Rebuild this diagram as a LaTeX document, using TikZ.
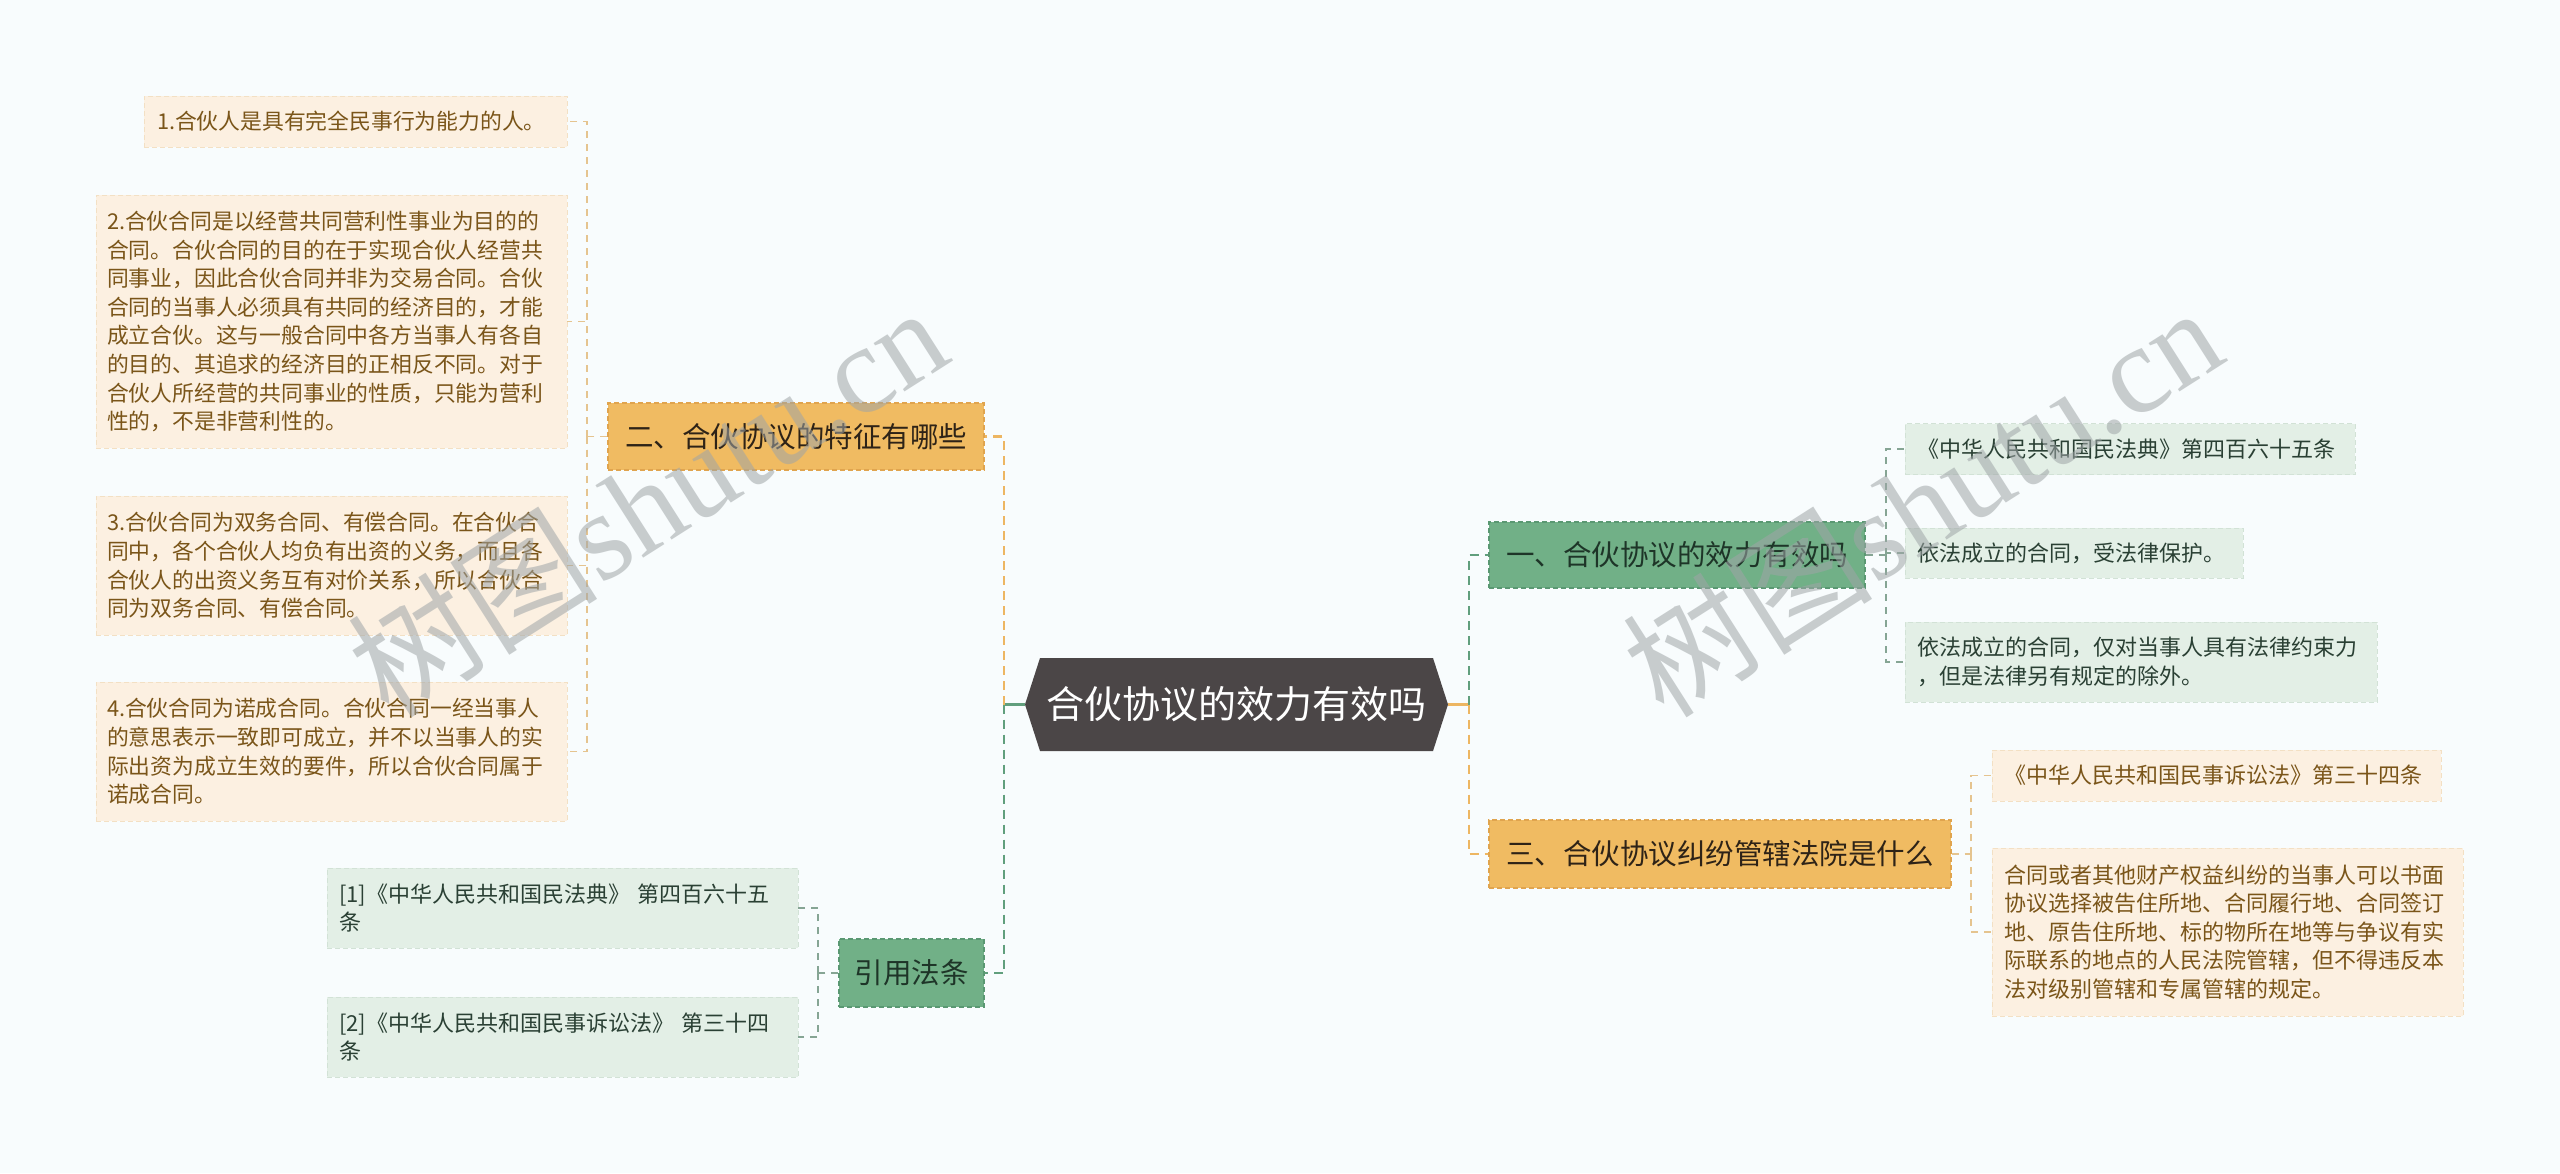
\documentclass[tikz,border=0pt]{standalone}
\usepackage{fontspec}
\setmainfont{Noto Sans CJK SC}
\newfontfamily\wmlatin{Liberation Serif}
\definecolor{bgc}{HTML}{F8FCFD}
\definecolor{leafOfill}{HTML}{FCF0E1}
\definecolor{leafOline}{HTML}{F3E0C4}
\definecolor{leafOtext}{HTML}{7A5519}
\definecolor{leafGfill}{HTML}{E3EFE6}
\definecolor{leafGline}{HTML}{D2E2D6}
\definecolor{leafGtext}{HTML}{2A4034}
\definecolor{brOfill}{HTML}{F0BB62}
\definecolor{brOline}{HTML}{E0A44E}
\definecolor{brOtext}{HTML}{2E2317}
\definecolor{brGfill}{HTML}{71B087}
\definecolor{brGline}{HTML}{5A9872}
\definecolor{brGtext}{HTML}{1E3528}
\definecolor{hexc}{HTML}{4B4647}
\definecolor{conO}{HTML}{EDB662}
\definecolor{conG}{HTML}{619F7D}
\definecolor{lconO}{HTML}{E5C48F}
\definecolor{lconG}{HTML}{86A594}
\definecolor{wmc}{HTML}{9FA5A7}
\newcommand\lffontL{\fontsize{21.8}{28.6}\selectfont}
\newcommand\lffontR{\fontsize{22}{28.6}\selectfont}
\newcommand\brfontX{\fontsize{28.5}{34}\selectfont}
\newcommand\ctfontX{\fontsize{38}{44}\selectfont}
\begin{document}
\begin{tikzpicture}[x=1pt,y=-1pt,
  box/.style={rectangle, inner xsep=12pt, inner ysep=0pt, dashed, line width=0.9pt, dash pattern=on 5pt off 3pt},
  oleaf/.style={box, fill=leafOfill, draw=leafOline, text=leafOtext, align=left},
  gleaf/.style={box, fill=leafGfill, draw=leafGline, text=leafGtext, align=left},
  obr/.style={box, fill=brOfill, draw=brOline, text=brOtext, font=\brfontX, line width=1.2pt},
  gbr/.style={box, fill=brGfill, draw=brGline, text=brGtext, font=\brfontX, line width=1.2pt},
  mainO/.style={draw=conO, line width=2.6pt, dash pattern=on 9pt off 6pt},
  mainG/.style={draw=conG, line width=2.6pt, dash pattern=on 9pt off 6pt},
  subO/.style={draw=lconO, line width=1.3pt, dash pattern=on 7pt off 6pt},
  subG/.style={draw=lconG, line width=1.3pt, dash pattern=on 7pt off 6pt},
  wm/.style={text=wmc, text opacity=0.55, font=\fontsize{125}{130}\selectfont, inner sep=0pt}
]
\useasboundingbox (0,0) rectangle (2560,1173);
\fill[bgc] (0,0) rectangle (2560,1173);

% centre
\node[rectangle, inner sep=0pt, minimum width=423pt, minimum height=93pt, text=white, font=\ctfontX,
  path picture={\fill[hexc] ([xshift=15pt]path picture bounding box.north west) -- ([xshift=-15pt]path picture bounding box.north east) -- (path picture bounding box.east) -- ([xshift=-15pt]path picture bounding box.south east) -- ([xshift=15pt]path picture bounding box.south west) -- (path picture bounding box.west) -- cycle;}]
  (c) at (1236.5,704.5) {合伙协议的效力有效吗};

% left branches
\node[obr, minimum width=376pt, minimum height=67pt] (er) at (796,436.5) {二、合伙协议的特征有哪些};
\node[gbr, minimum width=145pt, minimum height=68pt] (yy) at (911.5,973) {引用法条};

% left leaves
\node[oleaf, font=\lffontL, inner xsep=13pt, text width=397pt, minimum width=423pt, minimum height=51pt] (l1) at (355.5,121.5) {1.合伙人是具有完全民事行为能力的人。};
\node[oleaf, font=\lffontL, inner xsep=11pt, text width=449pt, minimum width=471pt, minimum height=253pt] (l2) at (331.5,321.5) {2.合伙合同是以经营共同营利性事业为目的的\\合同。合伙合同的目的在于实现合伙人经营共\\同事业，因此合伙合同并非为交易合同。合伙\\合同的当事人必须具有共同的经济目的，才能\\成立合伙。这与一般合同中各方当事人有各自\\的目的、其追求的经济目的正相反不同。对于\\合伙人所经营的共同事业的性质，只能为营利\\性的，不是非营利性的。};
\node[oleaf, font=\lffontL, inner xsep=11pt, text width=449pt, minimum width=471pt, minimum height=139pt] (l3) at (331.5,565.5) {3.合伙合同为双务合同、有偿合同。在合伙合\\同中，各个合伙人均负有出资的义务，而且各\\合伙人的出资义务互有对价关系，所以合伙合\\同为双务合同、有偿合同。};
\node[oleaf, font=\lffontL, inner xsep=11pt, text width=449pt, minimum width=471pt, minimum height=139pt] (l4) at (331.5,751.5) {4.合伙合同为诺成合同。合伙合同一经当事人\\的意思表示一致即可成立，并不以当事人的实\\际出资为成立生效的要件，所以合伙合同属于\\诺成合同。};

\node[gleaf, font=\lffontR, text width=447pt, minimum width=471pt, minimum height=80pt] (r1) at (562.5,908) {[1]《中华人民共和国民法典》 第四百六十五\\条};
\node[gleaf, font=\lffontR, text width=447pt, minimum width=471pt, minimum height=80pt] (r2) at (562.5,1037) {[2]《中华人民共和国民事诉讼法》 第三十四\\条};

% right branches
\node[gbr, minimum width=376pt, minimum height=66pt] (yi) at (1677,555) {一、合伙协议的效力有效吗};
\node[obr, minimum width=462pt, minimum height=68pt] (san) at (1720,854) {三、合伙协议纠纷管辖法院是什么};

% right leaves
\node[gleaf, font=\lffontR, text width=426pt, minimum width=450pt, minimum height=51pt] (a1) at (2130,449) {《中华人民共和国民法典》第四百六十五条};
\node[gleaf, font=\lffontR, text width=314pt, minimum width=338pt, minimum height=50pt] (a2) at (2074,553) {依法成立的合同，受法律保护。};
\node[gleaf, font=\lffontR, text width=448pt, minimum width=472pt, minimum height=80pt] (a3) at (2141,662) {依法成立的合同，仅对当事人具有法律约束力\\，但是法律另有规定的除外。};

\node[oleaf, font=\lffontR, text width=425pt, minimum width=449pt, minimum height=51pt] (b1) at (2216.5,775.5) {《中华人民共和国民事诉讼法》第三十四条};
\node[oleaf, font=\lffontR, text width=447pt, minimum width=471pt, minimum height=168pt] (b2) at (2227.5,932) {合同或者其他财产权益纠纷的当事人可以书面\\协议选择被告住所地、合同履行地、合同签订\\地、原告住所地、标的物所在地等与争议有实\\际联系的地点的人民法院管辖，但不得违反本\\法对级别管辖和专属管辖的规定。};

% junction points
\coordinate (lj) at (1004,704.5);
\coordinate (rj) at (1469,704.5);
\coordinate (lk) at (587,436.5);
\coordinate (rk3) at (818,973);
\coordinate (rk1) at (1886,555);
\coordinate (rk2) at (1971,854);

% main connectors
\draw[conG, line width=2.6pt] (c.west) -- (lj);
\draw[conO, line width=2.6pt] (c.east) -- (rj);
\draw[mainO] (lj) |- (er.east);
\draw[mainG] (lj) |- (yy.east);
\draw[mainG] (rj) |- (yi.west);
\draw[mainO] (rj) |- (san.west);

% leaf connectors
\draw[subO] (er.west) -- (lk);
\draw[subO] (lk) |- (l1.east);
\draw[subO] (lk) |- (l2.east);
\draw[subO] (lk) |- (l3.east);
\draw[subO] (lk) |- (l4.east);

\draw[subG] (yy.west) -- (rk3);
\draw[subG] (rk3) |- (r1.east);
\draw[subG] (rk3) |- (r2.east);

\draw[subG] (yi.east) -- (rk1);
\draw[subG] (rk1) |- (a1.west);
\draw[subG] (rk1) |- (a2.west);
\draw[subG] (rk1) |- (a3.west);

\draw[subO] (san.east) -- (rk2);
\draw[subO] (rk2) |- (b1.west);
\draw[subO] (rk2) |- (b2.west);

% watermarks
\node[wm, rotate=32.5] (w1) at (647,500) {树图{\wmlatin shutu.cn}};
\node[wm, rotate=32.5] (w2) at (1922,500) {树图{\wmlatin shutu.cn}};
\end{tikzpicture}
\end{document}
